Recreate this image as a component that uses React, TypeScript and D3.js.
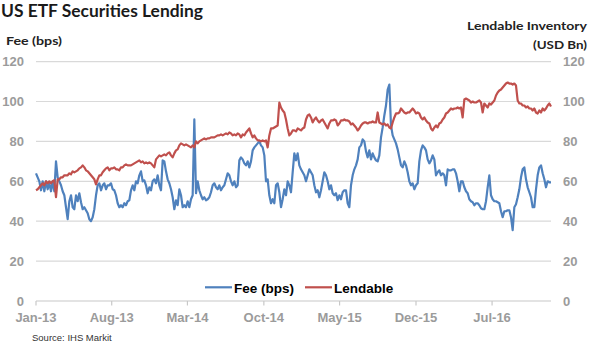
import React from 'react';
import * as d3 from 'd3';

const W = 590;
const H = 355;

const titleText = 'US ETF Securities Lending';
const leftAxisTitle = 'Fee (bps)';
const rightAxisTitle = ['Lendable Inventory', '(USD Bn)'];
const sourceText = 'Source: IHS Markit';
const seriesNames = ['Fee (bps)', 'Lendable'];
const seriesColors = ['#4F81BD', '#C0504D'];

const startDate = '2013-01-01';
const stepDays = 14 / 3;
const xDomain = ['2013-01-01', '2016-12-13'];
const xTickDates = ['2013-01-01', '2013-08-01', '2014-03-01', '2014-10-01', '2015-05-01', '2015-12-01', '2016-07-01'];
const xTickLabels = ['Jan-13', 'Aug-13', 'Mar-14', 'Oct-14', 'May-15', 'Dec-15', 'Jul-16'];
const yTicks = [0, 20, 40, 60, 80, 100, 120];

const feeValues = [
  64, 62, 60, 55.5, 60, 55, 60, 56, 59, 55,
  60, 55, 70, 62, 60, 58, 55, 53, 47, 41,
  50, 53, 47, 46, 53, 50, 54, 49.5, 46, 47,
  45.5, 44, 41, 40, 42, 46, 53, 58, 59, 55.5,
  58, 59, 56, 58, 58, 59, 56, 55.5, 53, 49,
  47, 48, 47, 49, 48, 50, 50.5, 55.5, 58, 55.5,
  60, 59, 63,
  65, 60, 60.5, 58, 54, 57, 55.5, 60, 61, 59,
  63, 58, 55.5, 70.5, 70, 65, 61, 59, 56, 52,
  46, 50.5, 48, 56, 53, 47, 48, 47, 50, 47,
  51, 53, 91, 54, 60, 55.5, 53, 51, 52, 50.5,
  51, 52, 54.5, 58, 59, 57, 56, 58, 55.5, 57,
  58, 61, 64, 63, 60, 58, 60, 57, 58, 70.5,
  72, 71,
  69, 68, 70, 67, 70, 75.5, 77, 78, 79, 80,
  78, 77, 73, 60, 61, 53, 49, 51, 49, 58,
  59, 54.5, 47, 51, 56, 53, 60, 58, 54.5, 64.5,
  74, 70.5, 74, 68, 66, 64.5, 63, 60, 63, 66,
  64.5, 63, 58, 54.5, 55.5, 52, 55.5, 60, 64.5, 63,
  60, 56, 58, 54, 53, 54, 50.5, 53, 51, 54.5,
  55.5, 55.5, 49,
  47, 58, 63, 66, 68, 71, 77, 78, 81, 80,
  75, 72, 75.5, 71, 74, 72, 70.5, 70, 73, 82,
  87, 93, 98, 106, 108.5, 88, 83, 81, 79, 76,
  72, 68, 67, 70, 68, 64.5, 60, 58, 59, 56,
  58, 59, 70, 75.5, 78, 77, 75.5, 71, 69, 70.5,
  73, 71, 63, 64.5, 65.5, 63, 64, 63, 58, 66,
  65.5, 65.5,
  66, 66, 64, 60, 55, 60, 60, 57, 55, 54,
  51, 50, 49.5, 48, 49, 49, 48, 46.5, 46, 46,
  50, 57, 63, 53, 51, 50, 50, 49.5, 49, 45,
  42, 45, 45, 45.5, 45.5, 42, 35.5, 47, 48.5, 52,
  56, 62, 66, 67, 61, 57, 54.5, 52, 47, 47,
  56, 63, 67, 68, 64, 61, 57, 60, 59.5, 59.5,
];

const lendableValues = [
  55.5, 56, 57, 58, 59, 58, 60, 59, 60, 59,
  60, 60.5, 52, 61, 61, 62, 62, 63, 63, 63,
  64, 63.5, 65, 64.5, 65, 65.5, 66.5, 67, 68, 67,
  65.5, 65, 64, 63, 62, 61, 58.5, 61, 63, 63,
  64.5, 65.5, 66.5, 67, 65.5, 66.5, 66.5, 67, 66, 66,
  65.5, 67, 67, 68, 68.5, 68, 68, 68, 68.5, 69,
  69.5, 70, 70.5,
  69.5, 70, 69, 69.5, 69, 69.5, 69, 68, 67, 71,
  72, 73, 72.5, 73, 73.5, 73, 74, 74.5, 73, 72,
  74, 75.5, 76, 78, 79, 78.5, 78, 78.5, 78, 77.5,
  77, 78, 77, 80, 79, 80, 80.5, 81, 81.5, 81,
  81.5, 81.5, 82, 82, 82, 82.5, 83, 83, 83.5, 83,
  83.5, 84, 83.5, 84.5, 84, 83, 83.5, 83, 84, 83.5,
  82, 83.5,
  83, 84.5, 85.5, 86.5, 84, 82, 83, 81.5, 80.5, 80.5,
  80, 80.5, 80, 80.5, 77, 83, 86.5, 86.5, 87, 87.5,
  88, 99.5, 97, 95.5, 94.5, 91, 86.5, 83, 84, 85.5,
  85.5, 85, 86.5, 86, 85.5, 86.5, 87, 91, 93, 93.5,
  92, 89.5, 91, 92, 90.5, 89.5, 90.5, 91, 89.5, 88,
  86.5, 89, 90.5, 90.5, 91, 90.5, 88, 89, 90.5, 90.5,
  91, 90.5, 90.5,
  90, 88.5, 89, 88, 87, 85.5, 86.5, 88, 89, 89.5,
  89.5, 89, 89.5, 89.5, 90, 89.5, 89.5, 94.5, 89.5, 89,
  88.5, 89, 88, 88.5, 87, 86.5, 89.5, 92, 94, 94,
  94.5, 96.5, 95.5, 94.5, 94, 94.5, 94.5, 95.5, 96.5, 95.5,
  94, 94.5, 94, 92, 91, 92, 90.5, 89.5, 89, 86.5,
  85.5, 87, 88, 87, 89, 89.5, 91, 92, 94, 94.5,
  95.5, 96.5,
  96, 96.5, 96.5, 97, 96.5, 97, 92, 101, 101.5, 101,
  100.5, 99.5, 100, 99.5, 99.5, 100, 100.5, 99.5, 94.5, 99,
  98, 97, 99, 98.5, 99.5, 100.5, 103, 104.5, 105.5, 106,
  107, 108, 109, 109.5, 109, 109, 108.5, 109, 108, 100.5,
  99, 99, 98, 98, 97, 97.5, 96.5, 96.5, 95.5, 96.5,
  94.5, 94, 95.5, 94.5, 96.5, 95.5, 96.5, 98, 99, 97.5,
];

const FONT = '"Liberation Sans", Arial, sans-serif';
const HFONT = 'Lato, "Liberation Sans", Arial, sans-serif';
const GRAY = '#9B9B9B';

export default function App() {
  const x = d3
    .scaleUtc()
    .domain(xDomain.map((d) => new Date(d)))
    .range([36, 551]);
  const yLeft = d3.scaleLinear().domain([0, 120]).range([301, 61.6]);
  const yRight = d3.scaleLinear().domain([0, 120]).range([301, 61.6]);

  const t0 = new Date(startDate).getTime();
  const dateAt = (i: number) => new Date(t0 + i * stepDays * 86400000);

  const feeLine = d3
    .line<number>()
    .x((_, i) => x(dateAt(i)))
    .y((d) => yLeft(d));
  const lendLine = d3
    .line<number>()
    .x((_, i) => x(dateAt(i)))
    .y((d) => yRight(d));

  const [x0, x1] = x.range();

  return (
    <svg
      width={W}
      height={H}
      style={{ position: 'absolute', left: 0, top: 0, background: '#fff' }}
    >
      <rect x={0} y={0} width={W} height={H} fill="#fff" />
      <text x={1} y={16.7} fontFamily={HFONT} fontWeight={700} fontSize={16.5} fill="#1a1a1a" textLength={202} lengthAdjust="spacingAndGlyphs">
        {titleText}
      </text>
      <text x={6} y={45} fontFamily={HFONT} fontWeight={700} fontSize={11} fill="#222" textLength={56} lengthAdjust="spacingAndGlyphs">
        {leftAxisTitle}
      </text>
      <text x={587} y={30} textAnchor="end" fontFamily={HFONT} fontWeight={700} fontSize={11} fill="#222" textLength={120} lengthAdjust="spacingAndGlyphs">
        {rightAxisTitle[0]}
      </text>
      <text x={587} y={48.5} textAnchor="end" fontFamily={HFONT} fontWeight={700} fontSize={11} fill="#222" textLength={54} lengthAdjust="spacingAndGlyphs">
        {rightAxisTitle[1]}
      </text>

      {yTicks.filter((t) => t > 0).map((t) => (
        <line key={'g' + t} x1={x0} x2={x1} y1={yLeft(t)} y2={yLeft(t)} stroke="#D9D9D9" strokeWidth={1.2} />
      ))}
      <line x1={x0} x2={x1} y1={yLeft(0)} y2={yLeft(0)} stroke="#C8C8C8" strokeWidth={1.2} />
      {xTickDates.map((d) => (
        <line key={'t' + d} x1={x(new Date(d))} x2={x(new Date(d))} y1={yLeft(0)} y2={yLeft(0) + 4.5} stroke="#C8C8C8" strokeWidth={1.2} />
      ))}

      {yTicks.map((t) => (
        <text key={'l' + t} x={24} y={yLeft(t) + 4.6} textAnchor="end" fontFamily={FONT} fontWeight={700} fontSize={13} fill={GRAY}>
          {t}
        </text>
      ))}
      {yTicks.map((t) => (
        <text key={'r' + t} x={563} y={yRight(t) + 4.6} textAnchor="start" fontFamily={FONT} fontWeight={700} fontSize={13} fill={GRAY}>
          {t}
        </text>
      ))}
      {xTickDates.map((d, i) => (
        <text key={'x' + d} x={x(new Date(d))} y={322} textAnchor="middle" fontFamily={FONT} fontWeight={700} fontSize={13} fill={GRAY}>
          {xTickLabels[i]}
        </text>
      ))}

      <path d={feeLine(feeValues) || ''} fill="none" stroke={seriesColors[0]} strokeWidth={2.2} strokeLinejoin="round" />
      <path d={lendLine(lendableValues) || ''} fill="none" stroke={seriesColors[1]} strokeWidth={2.2} strokeLinejoin="round" />

      <line x1={205} x2={232} y1={287.3} y2={287.3} stroke={seriesColors[0]} strokeWidth={2.2} />
      <text x={234} y={292.7} fontFamily={FONT} fontWeight={700} fontSize={13.5} fill="#000">
        {seriesNames[0]}
      </text>
      <line x1={305} x2={332} y1={287.3} y2={287.3} stroke={seriesColors[1]} strokeWidth={2.2} />
      <text x={334} y={292.7} fontFamily={FONT} fontWeight={700} fontSize={13.5} fill="#000">
        {seriesNames[1]}
      </text>

      <text x={32} y={341} fontFamily={FONT} fontSize={9.5} fill="#333">
        {sourceText}
      </text>
    </svg>
  );
}
